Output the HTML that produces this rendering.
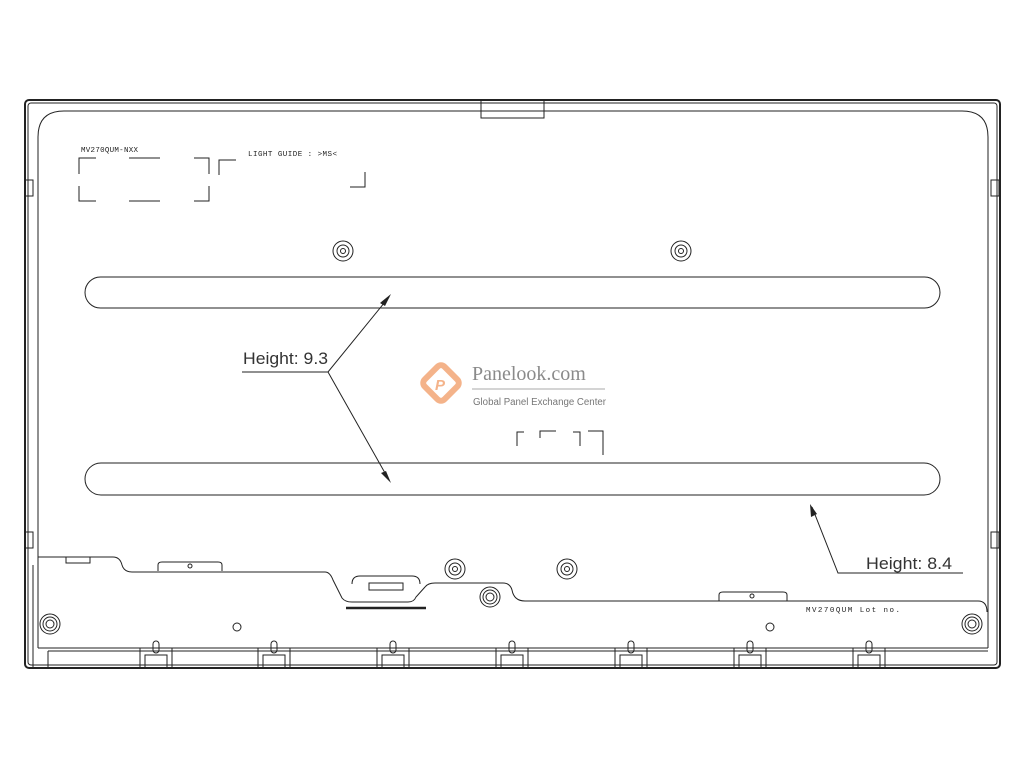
<!DOCTYPE html>
<html><head><meta charset="utf-8"><style>
html,body{margin:0;padding:0;background:#fff;width:1024px;height:768px;overflow:hidden}
svg{display:block}
text{font-family:"Liberation Mono",monospace}
</style></head><body>
<svg width="1024" height="768" viewBox="0 0 1024 768" xmlns="http://www.w3.org/2000/svg">
<g fill="none" stroke="#222" stroke-width="1">
<rect x="25" y="100" width="975" height="568" rx="4" stroke-width="2"/>
<rect x="28" y="103" width="969" height="562" rx="3"/>
<rect x="481" y="100" width="63" height="18"/>
<path d="M38,648 V137 Q38,111 64,111 H962 Q988,111 988,137 V648"/>
<line x1="38" y1="648" x2="988" y2="648"/>
<line x1="48" y1="651" x2="988" y2="651"/>
<line x1="48" y1="651" x2="48" y2="668"/>
<line x1="33" y1="565" x2="33" y2="668"/>
<rect x="25" y="180" width="8" height="16"/><rect x="25" y="532" width="8" height="16"/>
<rect x="991" y="180" width="8" height="16"/><rect x="991" y="532" width="8" height="16"/>
<path d="M79,174 V158 H96 M129,158 H160 M194,158 H209 V174 M79,186 V201 H96 M129,201 H160 M194,201 H209 V186"/>
<path d="M219,175 V160 H236 M365,172 V187 H350"/>
<path d="M517,446 V432 H524 M540,438 V431 H556 M580,446 V432 H573 M588,431 H603 V455"/>
<rect x="85" y="277" width="855" height="31" rx="15.5"/>
<rect x="85" y="463" width="855" height="32" rx="16"/>
<path d="M38,557 H113 Q120,557 122,565 Q124,572 132,572 H325 Q330,572 333,580 L342,598 Q345,602 352,602 H408 Q414,602 416,597 L425,587 Q428,583 435,583 H503 Q510,583 512,590 Q514,601 525,601 H978 Q987,601 987,612"/>
<path d="M352,584 Q352,576 360,576 H412 Q420,576 420,584"/>
<rect x="369" y="583" width="34" height="7"/>
<line x1="346" y1="608" x2="426" y2="608" stroke-width="2.5"/>
<rect x="66" y="557" width="24" height="6"/>
<path d="M158,571 V565 Q158,562 162,562 H218 Q222,562 222,565 V571"/>
<circle cx="190" cy="566" r="2"/>
<path d="M719,601 V595 Q719,592 723,592 H783 Q787,592 787,595 V601"/>
<circle cx="752" cy="596" r="2"/>
<circle cx="237" cy="627" r="4"/><circle cx="770" cy="627" r="4"/>
<circle cx="343" cy="251" r="10"/><circle cx="343" cy="251" r="6"/><circle cx="343" cy="251" r="2.5"/>
<circle cx="681" cy="251" r="10"/><circle cx="681" cy="251" r="6"/><circle cx="681" cy="251" r="2.5"/>
<circle cx="455" cy="569" r="10"/><circle cx="455" cy="569" r="6"/><circle cx="455" cy="569" r="2.5"/>
<circle cx="567" cy="569" r="10"/><circle cx="567" cy="569" r="6"/><circle cx="567" cy="569" r="2.5"/>
<circle cx="490" cy="597" r="10"/><circle cx="490" cy="597" r="7"/><circle cx="490" cy="597" r="4"/>
<circle cx="50" cy="624" r="10"/><circle cx="50" cy="624" r="7"/><circle cx="50" cy="624" r="4"/>
<circle cx="972" cy="624" r="10"/><circle cx="972" cy="624" r="7"/><circle cx="972" cy="624" r="4"/>
<path d="M140,668 V648 H172 V668 M145,668 V655 H167 V668"/><rect x="153" y="641" width="6" height="12" rx="3"/>
<path d="M258,668 V648 H290 V668 M263,668 V655 H285 V668"/><rect x="271" y="641" width="6" height="12" rx="3"/>
<path d="M377,668 V648 H409 V668 M382,668 V655 H404 V668"/><rect x="390" y="641" width="6" height="12" rx="3"/>
<path d="M496,668 V648 H528 V668 M501,668 V655 H523 V668"/><rect x="509" y="641" width="6" height="12" rx="3"/>
<path d="M615,668 V648 H647 V668 M620,668 V655 H642 V668"/><rect x="628" y="641" width="6" height="12" rx="3"/>
<path d="M734,668 V648 H766 V668 M739,668 V655 H761 V668"/><rect x="747" y="641" width="6" height="12" rx="3"/>
<path d="M853,668 V648 H885 V668 M858,668 V655 H880 V668"/><rect x="866" y="641" width="6" height="12" rx="3"/>
<path d="M242,372 H328 L389,297 M328,372 L389,480"/>
<path d="M963,573 H838 L812,507"/>
</g>
<g fill="#222">
<polygon points="391,294 380,303 385,306"/>
<polygon points="391,483 381,473 386,471"/>
<polygon points="810,504 811,517 817,514"/>
</g>
<g fill="#222" font-size="7.5">
<text x="81" y="152" textLength="57" lengthAdjust="spacing">MV270QUM-NXX</text>
<text x="248" y="156" textLength="89" lengthAdjust="spacing">LIGHT GUIDE : &gt;MS&lt;</text>
<text x="806" y="612" textLength="94" lengthAdjust="spacing">MV270QUM  Lot no.</text>
</g>
<g fill="#333" font-size="17">
<text x="243" y="364" textLength="85" lengthAdjust="spacingAndGlyphs" style="font-family:'Liberation Sans',sans-serif">Height: 9.3</text>
<text x="866" y="569" textLength="86" lengthAdjust="spacingAndGlyphs" style="font-family:'Liberation Sans',sans-serif">Height: 8.4</text>
</g>
<g transform="translate(441,383) rotate(45)"><rect x="-14" y="-14" width="28" height="28" rx="5" fill="none" stroke="#f4b38a" stroke-width="6"/></g>
<text x="435" y="390" font-size="15" fill="#f4b38a" style="font-family:'Liberation Sans',sans-serif;font-weight:bold;font-style:italic">P</text>
<text x="472" y="380" font-size="20" fill="#8a8a8a" style="font-family:'Liberation Serif',serif">Panelook.com</text>
<line x1="472" y1="389" x2="605" y2="389" stroke="#aaa"/>
<text x="473" y="405" font-size="10" fill="#777" textLength="133" lengthAdjust="spacingAndGlyphs" style="font-family:'Liberation Sans',sans-serif">Global Panel Exchange Center</text>
</svg>
</body></html>
